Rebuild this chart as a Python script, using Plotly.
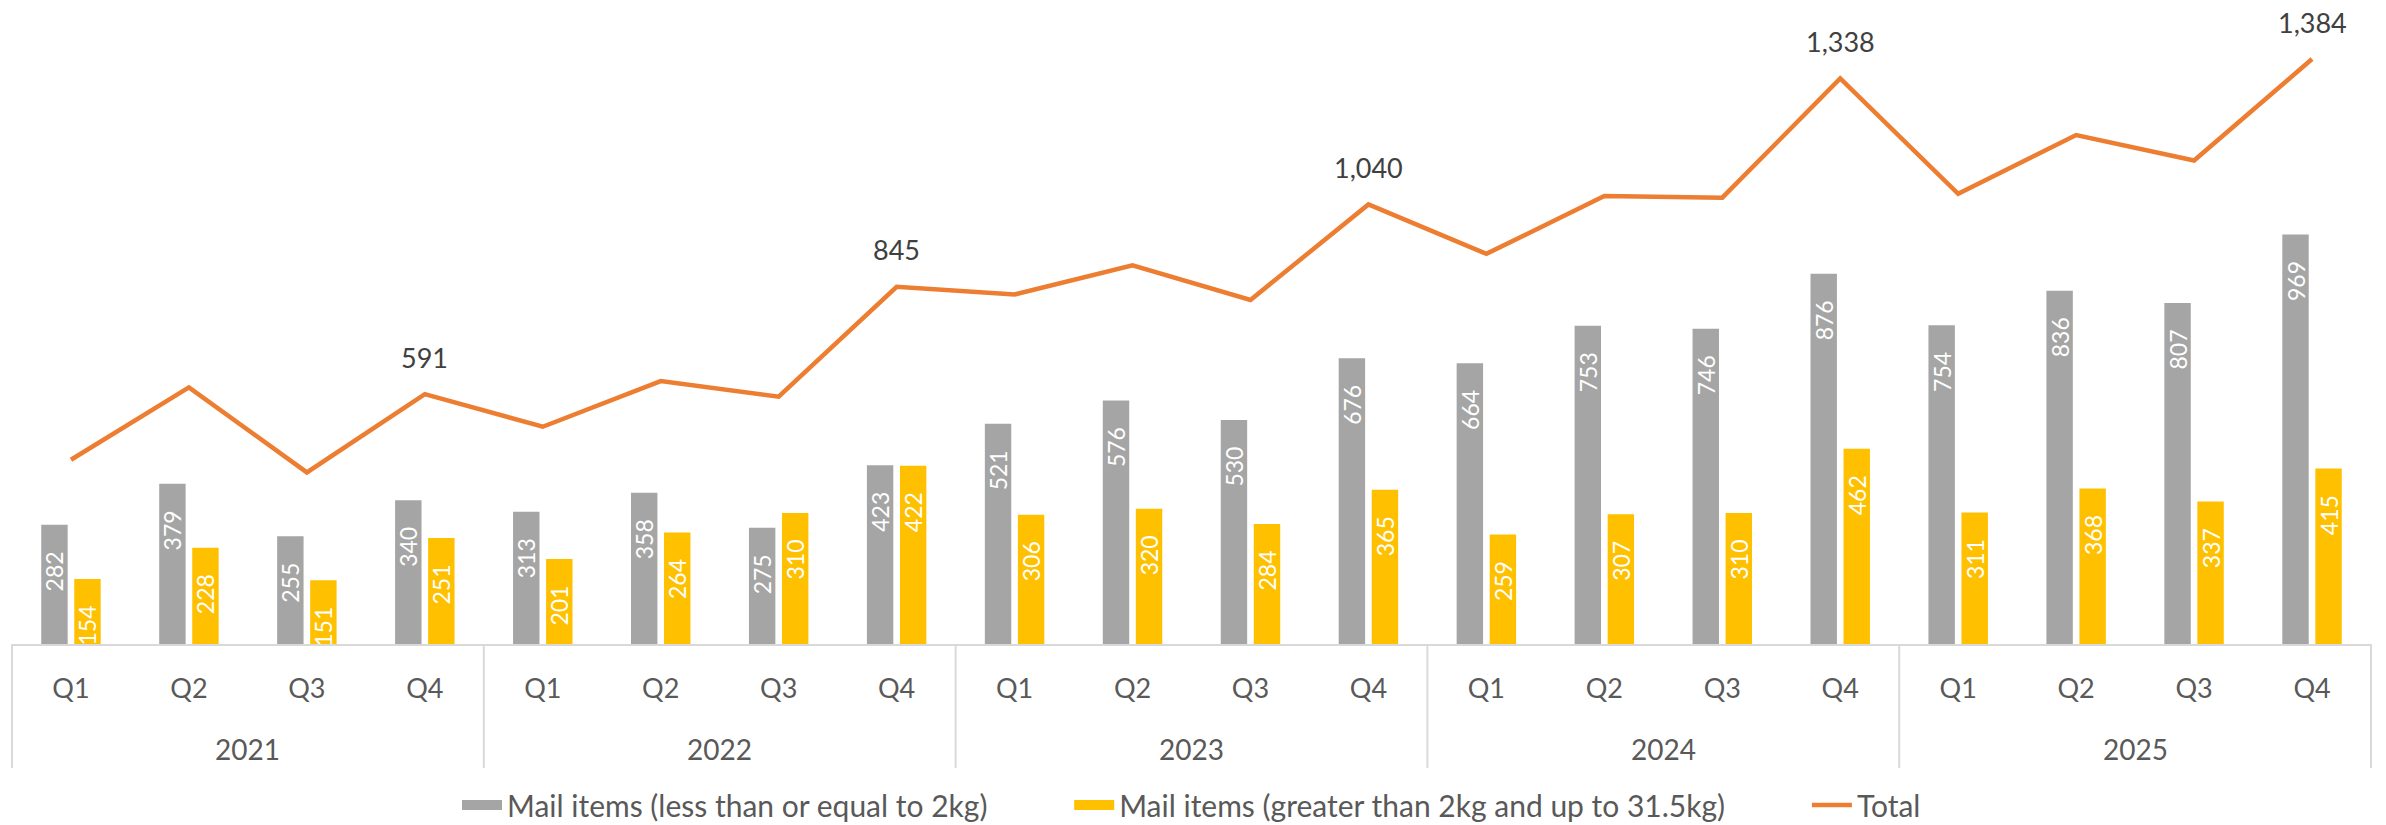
import plotly.graph_objects as go

years = ["2021", "2022", "2023", "2024", "2025"]
quarters = ["Q1", "Q2", "Q3", "Q4"]

light_items = [282, 379, 255, 340, 313, 358, 275, 423, 521, 576, 530, 676,
               664, 753, 746, 876, 754, 836, 807, 969]
heavy_items = [154, 228, 151, 251, 201, 264, 310, 422, 306, 320, 284, 365,
               259, 307, 310, 462, 311, 368, 337, 415]
total_items = [436, 607, 406, 591, 514, 622, 585, 845, 827, 896, 814, 1040,
               923, 1060, 1056, 1338, 1065, 1204, 1144, 1384]

series_names = ["Mail items (less than or equal to 2kg)",
                "Mail items (greater than 2kg and up to 31.5kg)",
                "Total"]

x_keys = [f"{y} {q}" for y in years for q in quarters]
x_quarters = [q for y in years for q in quarters]

GRAY = "#A5A5A5"
YELLOW = "#FFC000"
ORANGE = "#ED7D31"
AXIS_GRAY = "#D9D9D9"
FONT = "Lato"
NBSP = "\u00a0"

PLOT_H = 825 - 10 - 181

fig = go.Figure()
for vals, color, name in [(light_items, GRAY, series_names[0]),
                          (heavy_items, YELLOW, series_names[1])]:
    fig.add_trace(go.Bar(
        x=x_keys, y=vals, name=name, showlegend=False, legendgroup=name,
        marker=dict(color=color, line=dict(width=0)),
        texttemplate="%{y}" + NBSP * 4, textposition="inside", insidetextanchor="end",
        textangle=-90, insidetextfont=dict(color="white", size=23, family=FONT),
    ))
    # legend swatch (wide rectangle like the original)
    fig.add_trace(go.Scatter(
        x=[None], y=[None], mode="lines", name=name + NBSP * 10, legendgroup=name,
        line=dict(color=color, width=17),
    ))
fig.add_trace(go.Scatter(
    x=x_keys, y=total_items, name=series_names[2], mode="lines",
    line=dict(color=ORANGE, width=4.5),
))

for i, (q, v) in enumerate(zip(x_quarters, total_items)):
    if q == "Q4":
        fig.add_annotation(x=i, y=v, text=f"{v:,}", showarrow=False, yshift=37,
                           font=dict(size=27, color="#404040", family=FONT))

n_years = len(years)
for k, yr in enumerate(years):
    fig.add_annotation(x=k * len(quarters) + (len(quarters) - 1) / 2, xref="x",
                       y=0, yref="paper", yshift=-105, yanchor="middle",
                       text=yr, showarrow=False,
                       font=dict(size=28, color="#595959", family=FONT))
for k in range(n_years + 1):
    fig.add_shape(type="line", xref="paper", yref="paper",
                  x0=k / n_years, x1=k / n_years, y0=0, y1=-124 / PLOT_H,
                  line=dict(color=AXIS_GRAY, width=2))

fig.update_layout(
    width=2386, height=825,
    margin=dict(l=12, r=15, t=10, b=181, autoexpand=False),
    paper_bgcolor="white", plot_bgcolor="white",
    barmode="group", bargap=0.44, bargroupgap=0.2,
    font=dict(family=FONT, color="#595959", size=27),
    uniformtext=dict(minsize=23, mode="show"),
    showlegend=True,
    legend=dict(orientation="h", x=0.5, xanchor="center", y=-0.254, yanchor="middle",
                font=dict(size=30, color="#595959", family=FONT),
                itemwidth=40, traceorder="normal"),
)
fig.update_xaxes(
    type="category", categoryorder="array", categoryarray=x_keys,
    tickmode="array", tickvals=x_keys, ticktext=x_quarters,
    showline=True, linecolor=AXIS_GRAY, linewidth=2,
    showgrid=False, ticks="outside", ticklen=20, tickcolor="rgba(0,0,0,0)",
    tickfont=dict(size=27, color="#595959", family=FONT),
)
fig.update_yaxes(range=[0, 1500], visible=False, showgrid=False, zeroline=False)

fig.write_html("out.html", config={"displayModeBar": False},
               post_script="document.body.style.margin = '0';")
